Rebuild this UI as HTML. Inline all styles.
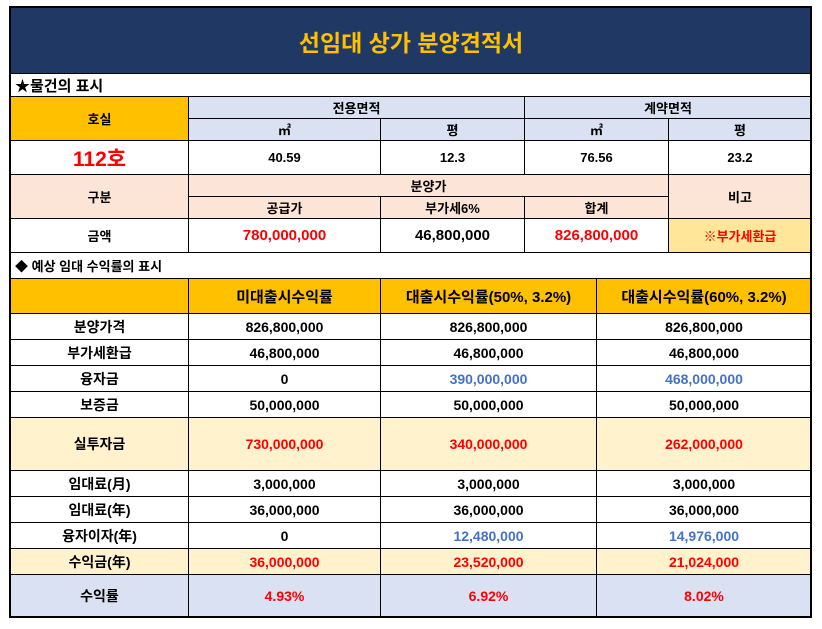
<!DOCTYPE html>
<html><head><meta charset="utf-8">
<style>
body{margin:0;width:822px;height:629px;background:#fff;position:relative;overflow:hidden;font-family:"Liberation Sans","Noto Sans CJK KR",sans-serif;}
.c{position:absolute;box-sizing:border-box;border:1px solid #000;display:flex;align-items:center;justify-content:center;font-weight:bold;font-size:14px;color:#000;white-space:nowrap;}
</style></head>
<body>
<div id="sheet"></div>
<div style="position:absolute;left:9px;top:6px;width:803px;height:612px;border:2px solid #000;box-sizing:border-box;pointer-events:none"></div>
<script>
var sheet=document.getElementById('sheet');
function cell(x1,y1,x2,y2,t,bg,col,fs,name,opt){
  var el=document.createElement('div');
  el.className='c';
  
  
  el.style.left=x1+'px';el.style.top=y1+'px';
  el.style.width=(x2-x1+1)+'px';el.style.height=(y2-y1+1)+'px';
  el.style.background=bg||'#fff';
  el.style.color=col||'#000';
  if(fs)el.style.fontSize=fs+'px';
  if(opt==='left'){el.style.justifyContent='flex-start';el.style.paddingLeft='4px';}
  el.textContent=t;
  sheet.appendChild(el);
  return el;
}
var NAVY='#203864',GOLD='#FFC000',LB='#D9E1F2',PE='#FCE4D6',LY='#FFF2CC',GY='#FFE699',RED='#FF0000',BLU='#4472C4';
cell(10,7,811,73,'선임대 상가 분양견적서',NAVY,GOLD,23,'title');
cell(10,73,811,96,'★물건의 표시','#fff','#000',15,'section-property','left');
cell(10,96,188,140,'호실',GOLD,'#000',13,'header-room');
cell(188,96,524,118,'전용면적',LB,'#000',13,'header-exclusive-area');
cell(524,96,811,118,'계약면적',LB,'#000',13,'header-contract-area');
cell(188,118,380,140,'㎡',LB,'#000',13,'header-ex-m2');
cell(380,118,524,140,'평',LB,'#000',13,'header-ex-pyeong');
cell(524,118,668,140,'㎡',LB,'#000',13,'header-ct-m2');
cell(668,118,811,140,'평',LB,'#000',13,'header-ct-pyeong');
cell(10,140,188,174,'112호','#fff',RED,21,'room-number');
cell(188,140,380,174,'40.59','#fff','#000',13,'ex-m2-value');
cell(380,140,524,174,'12.3','#fff','#000',13,'ex-pyeong-value');
cell(524,140,668,174,'76.56','#fff','#000',13,'ct-m2-value');
cell(668,140,811,174,'23.2','#fff','#000',13,'ct-pyeong-value');
cell(10,174,188,218,'구분',PE,'#000',13,'header-category');
cell(188,174,668,196,'분양가',PE,'#000',13,'header-sale-price');
cell(668,174,811,218,'비고',PE,'#000',13,'header-note');
cell(188,196,380,218,'공급가',PE,'#000',13,'header-supply');
cell(380,196,524,218,'부가세6%',PE,'#000',13,'header-vat');
cell(524,196,668,218,'합계',PE,'#000',13,'header-total');
cell(10,218,188,252,'금액','#fff','#000',13,'row-amount');
cell(188,218,380,252,'780,000,000','#fff',RED,15,'supply-value');
cell(380,218,524,252,'46,800,000','#fff','#000',15,'vat-value');
cell(524,218,668,252,'826,800,000','#fff',RED,15,'total-value');
cell(668,218,811,252,'※부가세환급',GY,RED,13,'note-value');
cell(10,252,811,278,'◆ 예상 임대 수익률의 표시','#fff','#000',13,'section-yield','left');
var xs=[10,188,380,596,811];
cell(10,278,188,313,'',GOLD,'#000',15,'yield-header-blank');
cell(188,278,380,313,'미대출시수익률',GOLD,'#000',15,'header-no-loan');
cell(380,278,596,313,'대출시수익률(50%, 3.2%)',GOLD,'#000',15,'header-loan-50');
cell(596,278,811,313,'대출시수익률(60%, 3.2%)',GOLD,'#000',15,'header-loan-60');
var rows=[
 ['분양가격',313,339,'#fff',['826,800,000','826,800,000','826,800,000'],['#000','#000','#000']],
 ['부가세환급',339,365,'#fff',['46,800,000','46,800,000','46,800,000'],['#000','#000','#000']],
 ['융자금',365,391,'#fff',['0','390,000,000','468,000,000'],['#000',BLU,BLU]],
 ['보증금',391,417,'#fff',['50,000,000','50,000,000','50,000,000'],['#000','#000','#000']],
 ['실투자금',417,470,LY,['730,000,000','340,000,000','262,000,000'],[RED,RED,RED]],
 ['임대료(月)',470,496,'#fff',['3,000,000','3,000,000','3,000,000'],['#000','#000','#000']],
 ['임대료(年)',496,522,'#fff',['36,000,000','36,000,000','36,000,000'],['#000','#000','#000']],
 ['융자이자(年)',522,548,'#fff',['0','12,480,000','14,976,000'],['#000',BLU,BLU]],
 ['수익금(年)',548,574,LY,['36,000,000','23,520,000','21,024,000'],[RED,RED,RED]],
 ['수익률',574,617,LB,['4.93%','6.92%','8.02%'],[RED,RED,RED]]
];
rows.forEach(function(r,i){
  cell(10,r[1],188,r[2],r[0],r[3],'#000',14,'row-label-'+i);
  for(var j=0;j<3;j++){
    cell(xs[j+1],r[1],xs[j+2],r[2],r[4][j],r[3],r[5][j],14,'row-'+i+'-col-'+j);
  }
});
</script>
</body></html>
